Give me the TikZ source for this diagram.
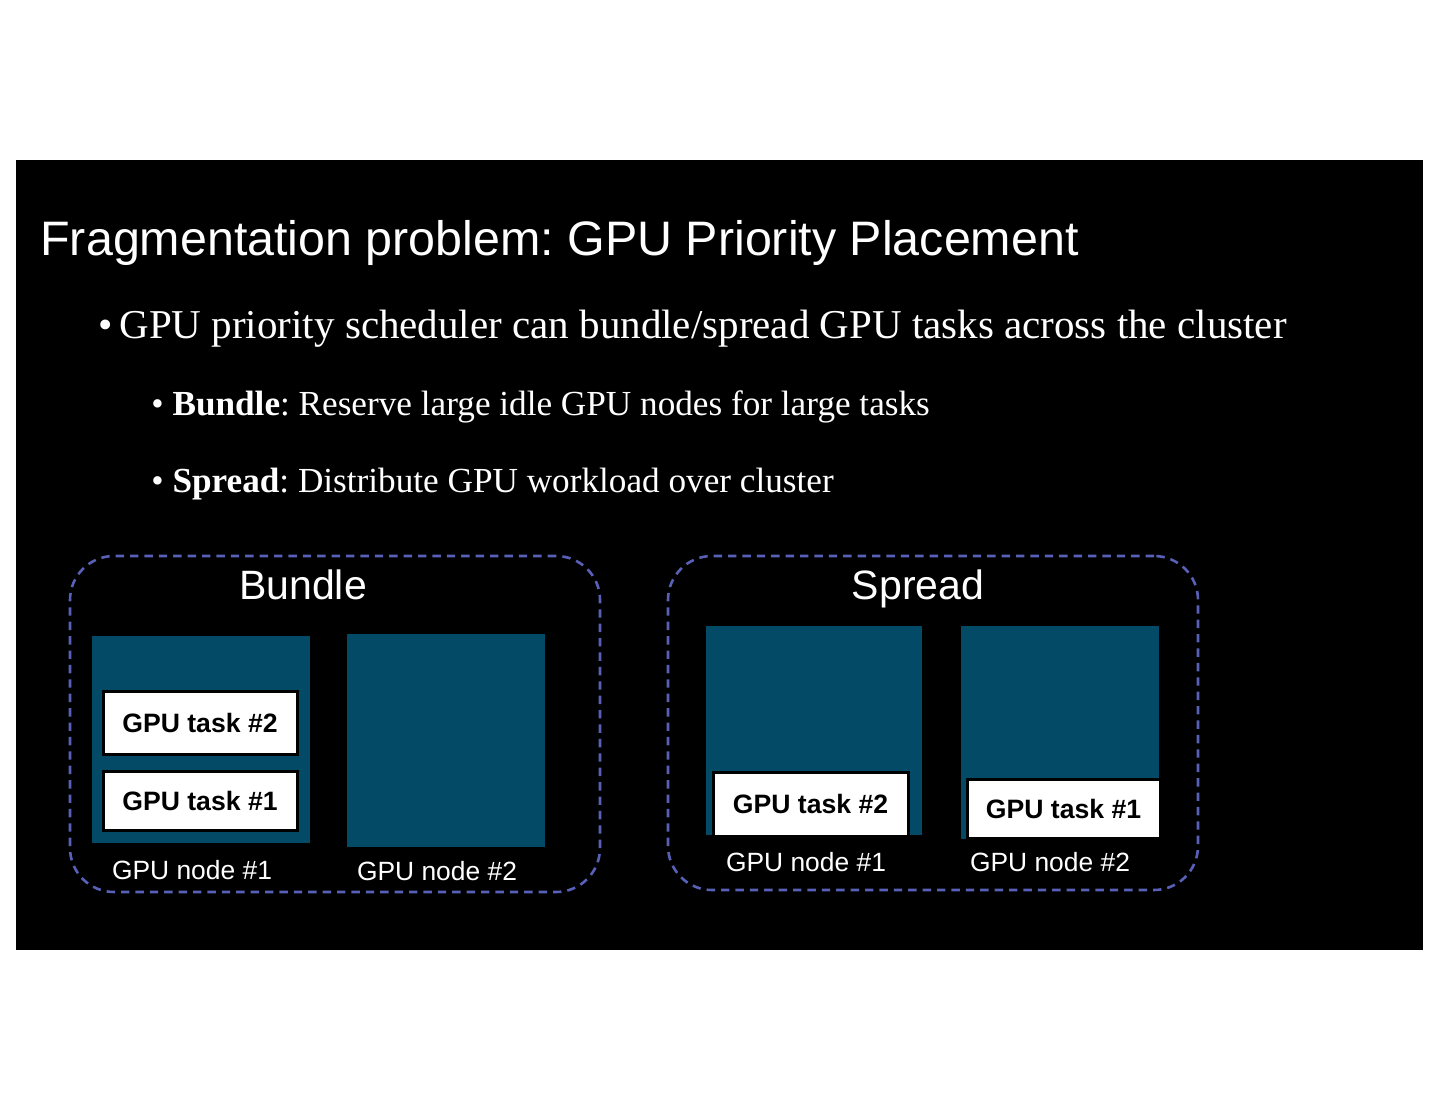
\documentclass[tikz,border=0pt]{standalone}
\usepackage{fontspec}
\setmainfont{Liberation Serif}
\setsansfont{Liberation Sans}
\usepackage{xcolor}
\usetikzlibrary{positioning}

\definecolor{gputeal}{RGB}{2,74,102}
\definecolor{frameblue}{RGB}{88,96,184}
\frenchspacing

\begin{document}
\begin{tikzpicture}[x=0.5pt, y=-0.5pt,
        % Estilo para los nodos GPU (bloques azul oscuro)
        gpunode/.style={
            rectangle,
            fill=gputeal,
            inner sep=0pt
        },
        % Estilo para las tareas GPU
        gputask/.style={
            rectangle,
            draw=black,
            line width=1.5pt,
            fill=white,
            inner sep=0pt,
            font=\sffamily\bfseries\fontsize{13.3}{15}\selectfont
        },
        % Estilo para los marcos discontinuos
        groupframe/.style={
            rectangle,
            draw=frameblue,
            line width=1.3pt,
            dash pattern=on 4.2pt off 3pt,
            rounded corners=22pt,
            inner sep=0pt
        },
        % Estilo para las etiquetas de los nodos
        nodelabel/.style={
            text=white,
            font=\sffamily\fontsize{13.2}{15}\selectfont
        },
        % Estilo para los titulos de grupo
        grouptitle/.style={
            text=white,
            anchor=base,
            inner sep=0pt,
            font=\sffamily\fontsize{20.5}{24}\selectfont
        },
        bullettext/.style={
            text=white,
            anchor=base west,
            inner sep=0pt
        }
    ]

        % Fondo
        \useasboundingbox (0,0) rectangle (1440,1113);
        \fill[white] (0,0) rectangle (1440,1113);
        \fill[black] (16,160) rectangle (1423,950);

        % --- TEXTOS ---
        \node[bullettext, font=\sffamily\fontsize{24.2}{28}\selectfont] (title) at (40,255)
            {Fragmentation problem: GPU Priority Placement};

        \node[bullettext, font=\fontsize{20.5}{24}\selectfont] (item1) at (98,338)
            {\textbullet\,GPU priority scheduler can bundle/spread GPU tasks across the cluster};

        \node[bullettext, font=\fontsize{17.6}{21}\selectfont] (item2) at (151,415)
            {\textbullet\ \textbf{Bundle}: Reserve large idle GPU nodes for large tasks};

        \node[bullettext, font=\fontsize{17.6}{21}\selectfont] (item3) at (151,492)
            {\textbullet\ \textbf{Spread}: Distribute GPU workload over cluster};

        % --- BUNDLE ---
        \node[groupframe, minimum width=265pt, minimum height=168pt] (bundle) at (335,724) {};
        \node[grouptitle] (bundletitle) at (303,599) {Bundle};

        \node[gpunode, minimum width=109pt, minimum height=103.5pt] (bnode1) at (201,739.5) {};
        \node[gpunode, minimum width=99pt, minimum height=106.5pt] (bnode2) at (446,740.5) {};

        \node[gputask, minimum width=97pt, minimum height=31.5pt] (btask2) at (200,722.5) {GPU task \#2};
        \node[gputask, minimum width=97pt, minimum height=29.5pt] (btask1) at (200,800.5) {GPU task \#1};

        \node[nodelabel] (blabel1) at (192,870) {GPU node \#1};
        \node[nodelabel] (blabel2) at (437,871) {GPU node \#2};

        % --- SPREAD ---
        \node[groupframe, minimum width=265pt, minimum height=167pt] (spread) at (933,723) {};
        \node[grouptitle] (spreadtitle) at (918,599) {Spread};

        \node[gpunode, minimum width=108pt, minimum height=104.5pt] (snode1) at (814,730.5) {};
        \node[gpunode, minimum width=99pt, minimum height=106.5pt] (snode2) at (1060,732.5) {};

        \node[gputask, minimum width=97.5pt, minimum height=32pt] (stask2) at (810.5,804) {GPU task \#2};
        \node[gputask, minimum width=96.5pt, minimum height=29.5pt] (stask1) at (1063.5,808.5) {GPU task \#1};

        \node[nodelabel] (slabel1) at (806,862) {GPU node \#1};
        \node[nodelabel] (slabel2) at (1050,862) {GPU node \#2};

    \end{tikzpicture}
\end{document}
